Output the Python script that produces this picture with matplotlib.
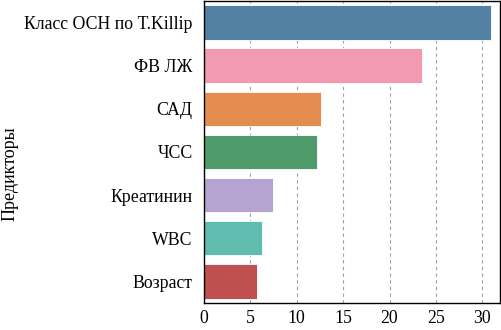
import matplotlib.pyplot as plt
import numpy as np

plt.rcParams['font.family'] = ['Liberation Serif', 'DejaVu Serif']

# Predictors and their importance scores
predictors = ['Класс ОСН по Т.Killip', 'ФВ ЛЖ', 'САД', 'ЧСС', 'Креатинин', 'WBC', 'Возраст']
importance = [30.9, 23.5, 12.6, 12.2, 7.5, 6.25, 5.7]
colors = ['#5281a3', '#f29ab0', '#e38e4f', '#4f9b6c', '#b5a4cf', '#5fbcae', '#c05050']

fig = plt.figure(figsize=(5.02, 3.30), dpi=100)
ax = fig.add_axes([0.406, 0.082, 0.591, 0.915])

y = np.arange(len(predictors))
ax.barh(y, importance, height=0.8, color=colors, edgecolor='white', linewidth=0.6, zorder=2)
ax.set_yticks(y)
ax.set_yticklabels(predictors, fontsize=12.8)
ax.set_ylim(len(predictors) - 0.5, -0.5)
ax.set_xlim(0, 31.95)
ax.set_xticks(np.arange(0, 31, 5))
ax.tick_params(axis='x', labelsize=12.8, length=0, pad=5)
ax.tick_params(axis='y', length=0, pad=8)
ax.grid(axis='x', linestyle=(0, (3, 3)), color='#a0a0a0', linewidth=0.8, zorder=0)
ax.set_ylabel('Предикторы', fontsize=13)
ax.yaxis.set_label_coords(-0.625, 0.427)
for s in ax.spines.values():
    s.set_color('black')
    s.set_linewidth(1.0)

fig.savefig('out.png', dpi=100)
